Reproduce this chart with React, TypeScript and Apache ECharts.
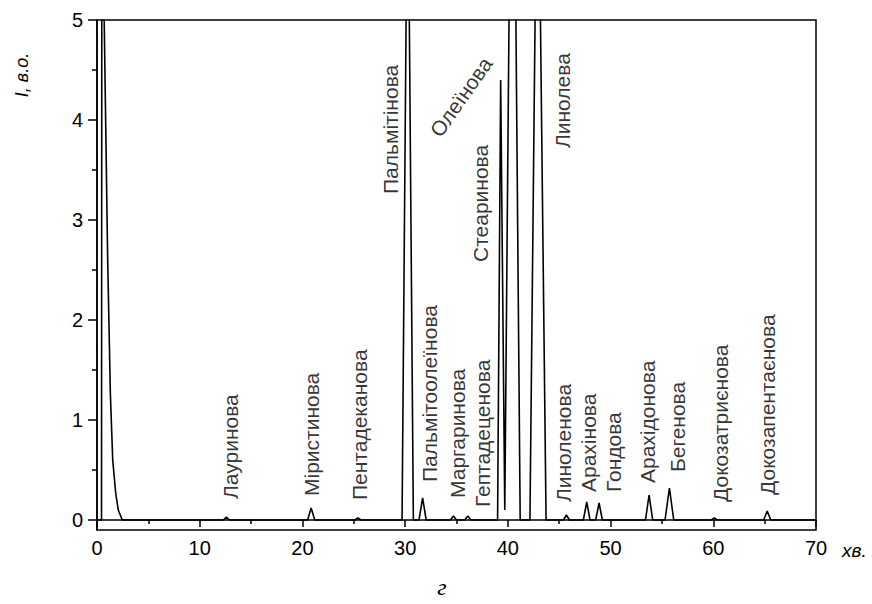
import React, { useEffect, useRef } from "react";
import * as echarts from "echarts";

// Chromatogram trace (retention time, min / intensity, a.u.)
const retentionTimes = [
  0, 0.44, 0.47, 0.68, 0.7, 1.04, 1.17, 1.3, 1.53, 1.82, 2.07, 2.46,
  12.3, 12.6, 12.9,
  20.5, 20.85, 21.2,
  25.1, 25.4, 25.7,
  29.7, 30.25, 30.8,
  31.35, 31.7, 32.05,
  34.4, 34.7, 35.0,
  35.8, 36.1, 36.4,
  39.0, 39.3, 39.7,
  40.45, 41.2,
  42.15, 42.9, 43.72,
  45.4, 45.7, 46.0,
  47.35, 47.68, 48.0,
  48.55, 48.88, 49.2,
  53.4, 53.75, 54.1,
  55.3, 55.73, 56.15,
  59.8, 60.1, 60.4,
  64.9, 65.25, 65.6,
  70,
];
const intensities = [
  0, 0, 6, 6, 5.0, 2.6, 1.94, 1.27, 0.6, 0.27, 0.1, 0,
  0, 0.03, 0,
  0, 0.12, 0,
  0, 0.02, 0,
  0, 7, 0,
  0, 0.22, 0,
  0, 0.04, 0,
  0, 0.04, 0,
  0, 4.4, 0.1,
  9, 0,
  0, 7.5, 0,
  0, 0.05, 0,
  0, 0.18, 0,
  0, 0.17, 0,
  0, 0.25, 0,
  0, 0.32, 0,
  0, 0.02, 0,
  0, 0.09, 0,
  0,
];

// Peak annotations
const peakNames = [
  "Лауринова", "Міристинова", "Пентадеканова", "Пальмітінова",
  "Пальмітоолеїнова", "Маргаринова", "Гептадеценова", "Стеаринова",
  "Олеїнова", "Линолева", "Линоленова", "Арахінова", "Гондова",
  "Арахідонова", "Бегенова", "Докозатриєнова", "Докозапентаєнова",
];
const labelTimes = [
  12.95, 20.93, 25.51, 28.53, 32.42, 35.05, 37.49, 37.29,
  35.44, 45.28, 45.37, 47.81, 50.24, 53.55, 56.47, 60.66, 65.24,
];
const labelLevels = [
  0.21, 0.24, 0.2, 3.26, 0.38, 0.22, 0.13, 2.58,
  4.23, 3.72, 0.18, 0.28, 0.28, 0.37, 0.48, 0.18, 0.25,
];
const labelAngles = [
  90, 90, 90, 90, 90, 90, 90, 90, 55, 90, 90, 90, 90, 90, 90, 90, 90,
];

const yMajorTicks = [0, 1, 2, 3, 4, 5];
const yMinorTicks = [0.5, 1.5, 2.5, 3.5, 4.5];

const FONT = "'Liberation Sans', Arial, sans-serif";

export default function App() {
  const ref = useRef<HTMLDivElement>(null);

  useEffect(() => {
    document.body.style.margin = "0";
    if (!ref.current) return;
    const chart = echarts.init(ref.current, undefined, { renderer: "svg" });

    const trace = retentionTimes.map((t, i) => [t, intensities[i]]);
    const labels = peakNames.map((name, i) => ({
      name,
      value: [labelTimes[i], labelLevels[i]],
      label: {
        rotate: labelAngles[i],
        align: labelAngles[i] === 90 ? "left" : "center",
        verticalAlign: "middle",
      },
    }));

    chart.setOption({
      animation: false,
      backgroundColor: "#fff",
      grid: {
        left: 97,
        right: 56,
        top: 20,
        bottom: 74,
        show: true,
        borderColor: "#000",
        borderWidth: 1.5,
        backgroundColor: "transparent",
      },
      xAxis: {
        type: "value",
        min: 0,
        max: 70,
        interval: 10,
        axisLine: { show: true, lineStyle: { color: "#000", width: 1.5 } },
        axisTick: { show: true, length: 7, lineStyle: { color: "#000", width: 1.5 } },
        minorTick: { show: true, splitNumber: 2, length: 4, lineStyle: { color: "#000", width: 1.5 } },
        splitLine: { show: false },
        axisLabel: { color: "#000", fontSize: 20, fontFamily: FONT, margin: 8 },
      },
      yAxis: [
        {
          type: "value",
          min: -0.1,
          max: 5,
          axisLine: { show: true, lineStyle: { color: "#000", width: 1.5 } },
          axisTick: {
            show: true,
            length: 9,
            customValues: yMajorTicks,
            lineStyle: { color: "#000", width: 1.5 },
          },
          splitLine: { show: false },
          axisLabel: {
            color: "#000",
            fontSize: 20,
            fontFamily: FONT,
            margin: 14,
            customValues: yMajorTicks,
          },
        },
        {
          type: "value",
          min: -0.1,
          max: 5,
          position: "left",
          axisLine: { show: false },
          axisTick: {
            show: true,
            length: 5,
            customValues: yMinorTicks,
            lineStyle: { color: "#000", width: 1.5 },
          },
          splitLine: { show: false },
          axisLabel: { show: false },
        },
      ],
      series: [
        {
          type: "line",
          data: trace,
          symbol: "none",
          clip: true,
          lineStyle: { color: "#000", width: 1.6 },
          z: 3,
        },
        {
          type: "scatter",
          data: labels,
          symbolSize: 0.1,
          itemStyle: { color: "transparent" },
          silent: true,
          clip: false,
          label: {
            show: true,
            position: "inside",
            formatter: "{b}",
            color: "#000",
            fontSize: 21,
            fontFamily: FONT,
          },
          z: 4,
        },
      ],
      graphic: [
        {
          type: "text",
          x: 22,
          y: 75,
          rotation: Math.PI / 2,
          style: {
            text: "I, в.о.",
            fill: "#000",
            font: `italic 18px ${FONT}`,
            align: "center",
            verticalAlign: "middle",
          },
        },
        {
          type: "text",
          x: 842,
          y: 550,
          style: {
            text: "хв.",
            fill: "#000",
            font: `italic 19px ${FONT}`,
            align: "left",
            verticalAlign: "middle",
          },
        },
        {
          type: "text",
          x: 442,
          y: 587,
          style: {
            text: "г",
            fill: "#000",
            font: "italic 24px 'Liberation Serif', 'Times New Roman', serif",
            align: "center",
            verticalAlign: "middle",
          },
        },
      ],
    });

    return () => chart.dispose();
  }, []);

  return (
    <div
      ref={ref}
      style={{ position: "absolute", left: 0, top: 0, width: 872, height: 604 }}
    />
  );
}
